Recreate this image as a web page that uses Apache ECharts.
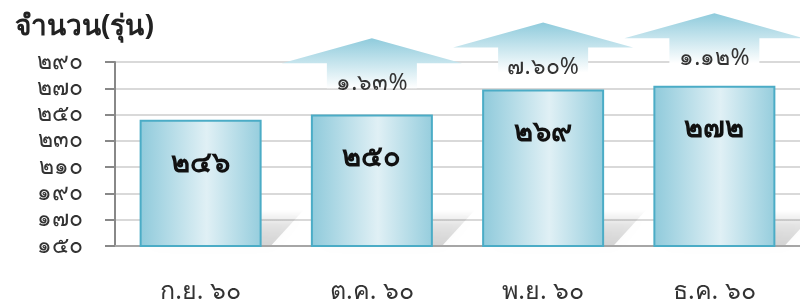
<!DOCTYPE html>
<html>
<head>
<meta charset="utf-8">
<script src="https://cdn.jsdelivr.net/npm/echarts@6/dist/echarts.min.js"></script>
<style>
body{margin:0;background:#fff}
#chart{width:800px;height:304px}
</style>
</head>
<body>
<div id="chart"></div>
<script>
const months=['ก.ย. ๖๐','ต.ค. ๖๐','พ.ย. ๖๐','ธ.ค. ๖๐'];
const counts=[246,250,269,272];
const arrowTop=[null,308,320,327];
const yTicks=[150,170,190,210,230,250,270,290];

function th(n){return String(n).replace(/[0-9]/g,d=>'๐๑๒๓๔๕๖๗๘๙'[d])}
function pct(i){return th(((counts[i]/counts[i-1]-1)*100).toFixed(2))+'%'}

const font='"Noto Sans", "DejaVu Sans", sans-serif';
let c=echarts.init(document.getElementById('chart'));

let barGrad=new echarts.graphic.LinearGradient(0,0,1,0,[
 {offset:0,color:'#8fcadb'},{offset:0.55,color:'#e0f0f5'},{offset:1,color:'#95cddd'}]);

c.setOption({
 animation:false,
 title:{text:'จำนวน(รุ่น)',left:10,top:8,textStyle:{fontSize:28,fontWeight:'bold',color:'#222',fontFamily:font}},
 grid:{left:115,top:62,width:690,height:184},
 xAxis:{type:'category',data:months,
  axisLine:{lineStyle:{color:'#a6a6a6',width:2}},axisTick:{show:false},
  axisLabel:{fontSize:25,color:'#333',margin:33,fontFamily:font}},
 yAxis:{type:'value',min:yTicks[0],max:yTicks[yTicks.length-1],interval:20,
  axisLine:{show:true,lineStyle:{color:'#888',width:2}},
  axisTick:{show:true,length:10,lineStyle:{color:'#888',width:2}},
  splitLine:{lineStyle:{color:'#d9d9d9',width:2}},
  axisLabel:{fontSize:23,color:'#333',margin:32,fontFamily:font,formatter:v=>th(v)}},
 series:[
  {type:'custom',z:1,silent:true,data:counts.map((v,i)=>[i,yTicks[0]]),
   renderItem:function(p,api){
    let b=api.coord([api.value(0),api.value(1)]);
    let L=b[0]-61,R=b[0]+61,y=b[1];
    return {type:'polygon',shape:{points:[[L+10,y-1],[R+10,y-1],[R+42,y-36],[L+42,y-36]]},
     style:{fill:new echarts.graphic.LinearGradient(0,0,0,1,[
      {offset:0,color:'rgba(0,0,0,0)'},{offset:0.45,color:'rgba(0,0,0,0.1)'},{offset:1,color:'rgba(0,0,0,0.16)'}]),
      shadowBlur:14,shadowColor:'rgba(0,0,0,0.12)'}};
   }},
  {type:'bar',z:3,data:counts,barWidth:122,
   itemStyle:{color:barGrad,borderColor:'#4bacc6',borderWidth:2},
   label:{show:true,position:'insideTop',distance:29,fontSize:29,fontWeight:'bold',color:'#111',fontFamily:font,formatter:p=>th(p.value)}},
  {type:'custom',z:4,silent:true,clip:false,
   data:arrowTop.map((v,i)=>[i,v]).filter(d=>d[1]!=null),
   renderItem:function(p,api){
    let i=api.value(0);
    let t=api.coord([i,api.value(1)]);
    let x=t[0],y=t[1];
    return {type:'group',children:[
     {type:'polygon',shape:{points:[[x,y],[x+90,y+25],[x+45,y+25],[x+45,y+50],[x-45,y+50],[x-45,y+25],[x-90,y+25]]},
      style:{fill:new echarts.graphic.LinearGradient(0,0,0,1,[{offset:0,color:'#8fcbdc'},{offset:1,color:'#ffffff'}])}},
     {type:'text',style:{text:pct(i),x:x,y:y+45,align:'center',verticalAlign:'middle',fontSize:23,fontFamily:font,fill:'#333'}}
    ]};
   }}
 ]
});
</script>
</body>
</html>
